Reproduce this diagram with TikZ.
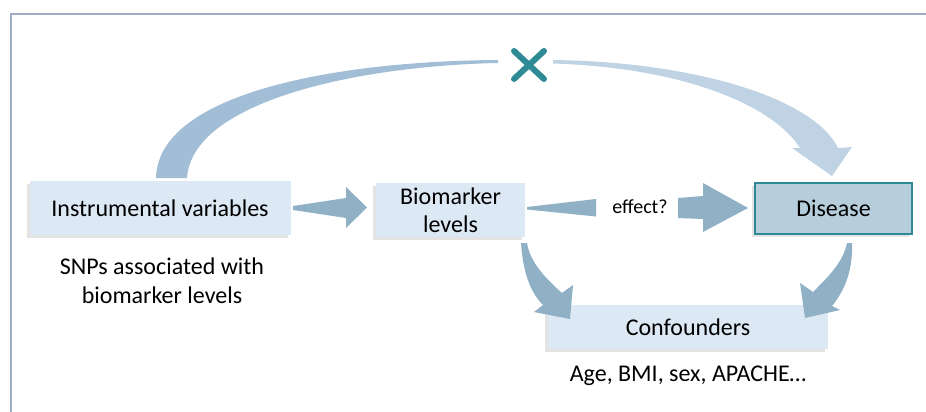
\documentclass[tikz,border=0pt]{standalone}
\usepackage{fontspec}
\setmainfont{Carlito}
\usetikzlibrary{shadows}
\definecolor{boxfill}{HTML}{DCE8F4}
\definecolor{disfill}{HTML}{B6CEDC}
\definecolor{teal}{HTML}{2E8A94}
\definecolor{arrowc}{HTML}{8FB0C5}
\definecolor{arcl}{HTML}{A2BED6}
\definecolor{arcr}{HTML}{C0D3E4}
\definecolor{frame}{HTML}{9DAEC6}
\tikzset{
  box/.style={fill=boxfill, draw=none, inner sep=0pt, align=center,
    font=\fontsize{24}{28}\selectfont,
    drop shadow={shadow xshift=-3pt, shadow yshift=-3pt, opacity=0.18, fill=black!60}},
  disbox/.style={box, fill=disfill, draw=teal, line width=1.6pt},
  plain/.style={inner sep=0pt, align=center, font=\fontsize{24}{29}\selectfont},
  blockarrow/.style={fill=arrowc, draw=none},
}
\begin{document}
\begin{tikzpicture}[x=1pt, y=-1pt]
\useasboundingbox (0,0) rectangle (926,412);
\fill[white] (0,0) rectangle (926,412);
% frame
\draw[frame, line width=2.5pt] (11,412) -- (11,14) -- (926,14);

% nodes
\node[box, minimum width=261pt, minimum height=54pt] (iv) at (160,208) {Instrumental variables};
\node[plain] (snp) at (162,281) {SNPs associated with\\biomarker levels};
\node[box, minimum width=149pt, minimum height=54pt] (bm) at (450.5,210) {Biomarker\\levels};
\node[disbox, minimum width=157pt, minimum height=51pt] (dis) at (833.5,208.5) {Disease};
\node[box, minimum width=280pt, minimum height=44pt] (conf) at (688,327) {Confounders};
\node[plain] (age) at (688,376) {Age, BMI, sex, APACHE…};
\node[inner sep=0pt, font=\fontsize{20}{24}\selectfont] (eff) at (640,207) {effect?};

% IV -> biomarker block arrow
\fill[blockarrow] (293,206) -- (346,198) -- (346,187) -- (367,207.5) -- (346,228) -- (346,218) -- (293,210) -- cycle;
% biomarker -> effect wedge
\fill[blockarrow] (527,207) -- (596,199) -- (596,216.5) -- (527,209.5) -- cycle;
% effect -> disease arrow
\fill[blockarrow] (678,198) -- (703,196) -- (703,183) -- (748,208) -- (703,232) -- (703,219) -- (678,218) -- cycle;

% big arc, left part
\fill[arcl] (156,178) .. controls (158,92) and (340,61) .. (498,60)
  -- (498,63) .. controls (355,66) and (192,102) .. (187,178) -- cycle;
% big arc, right part with head
\fill[arcr] (553,60) .. controls (700,62) and (815,100) .. (838,148)
  -- (852,147) -- (832,176) -- (792,148) -- (800,148)
  .. controls (775,108) and (690,68) .. (553,63.5) -- cycle;

% X mark
\draw[teal, line width=6pt, line cap=round] (514,51) -- (544,79);
\draw[teal, line width=6pt, line cap=round] (544,51) -- (514,79);

% biomarker -> confounders curved arrow
\fill[blockarrow] (521,243) .. controls (523,272) and (530,292) .. (543,305)
  -- (534,312) -- (570,319) -- (573,285) -- (562,293)
  .. controls (545,278) and (530,262) .. (527,243) -- cycle;
% disease -> confounders curved arrow
\fill[blockarrow] (852,243) .. controls (853,270) and (845,290) .. (832,306)
  -- (840,310) -- (805,318) -- (800,283) -- (813,292)
  .. controls (830,275) and (843,262) .. (847,243) -- cycle;
\end{tikzpicture}
\end{document}
